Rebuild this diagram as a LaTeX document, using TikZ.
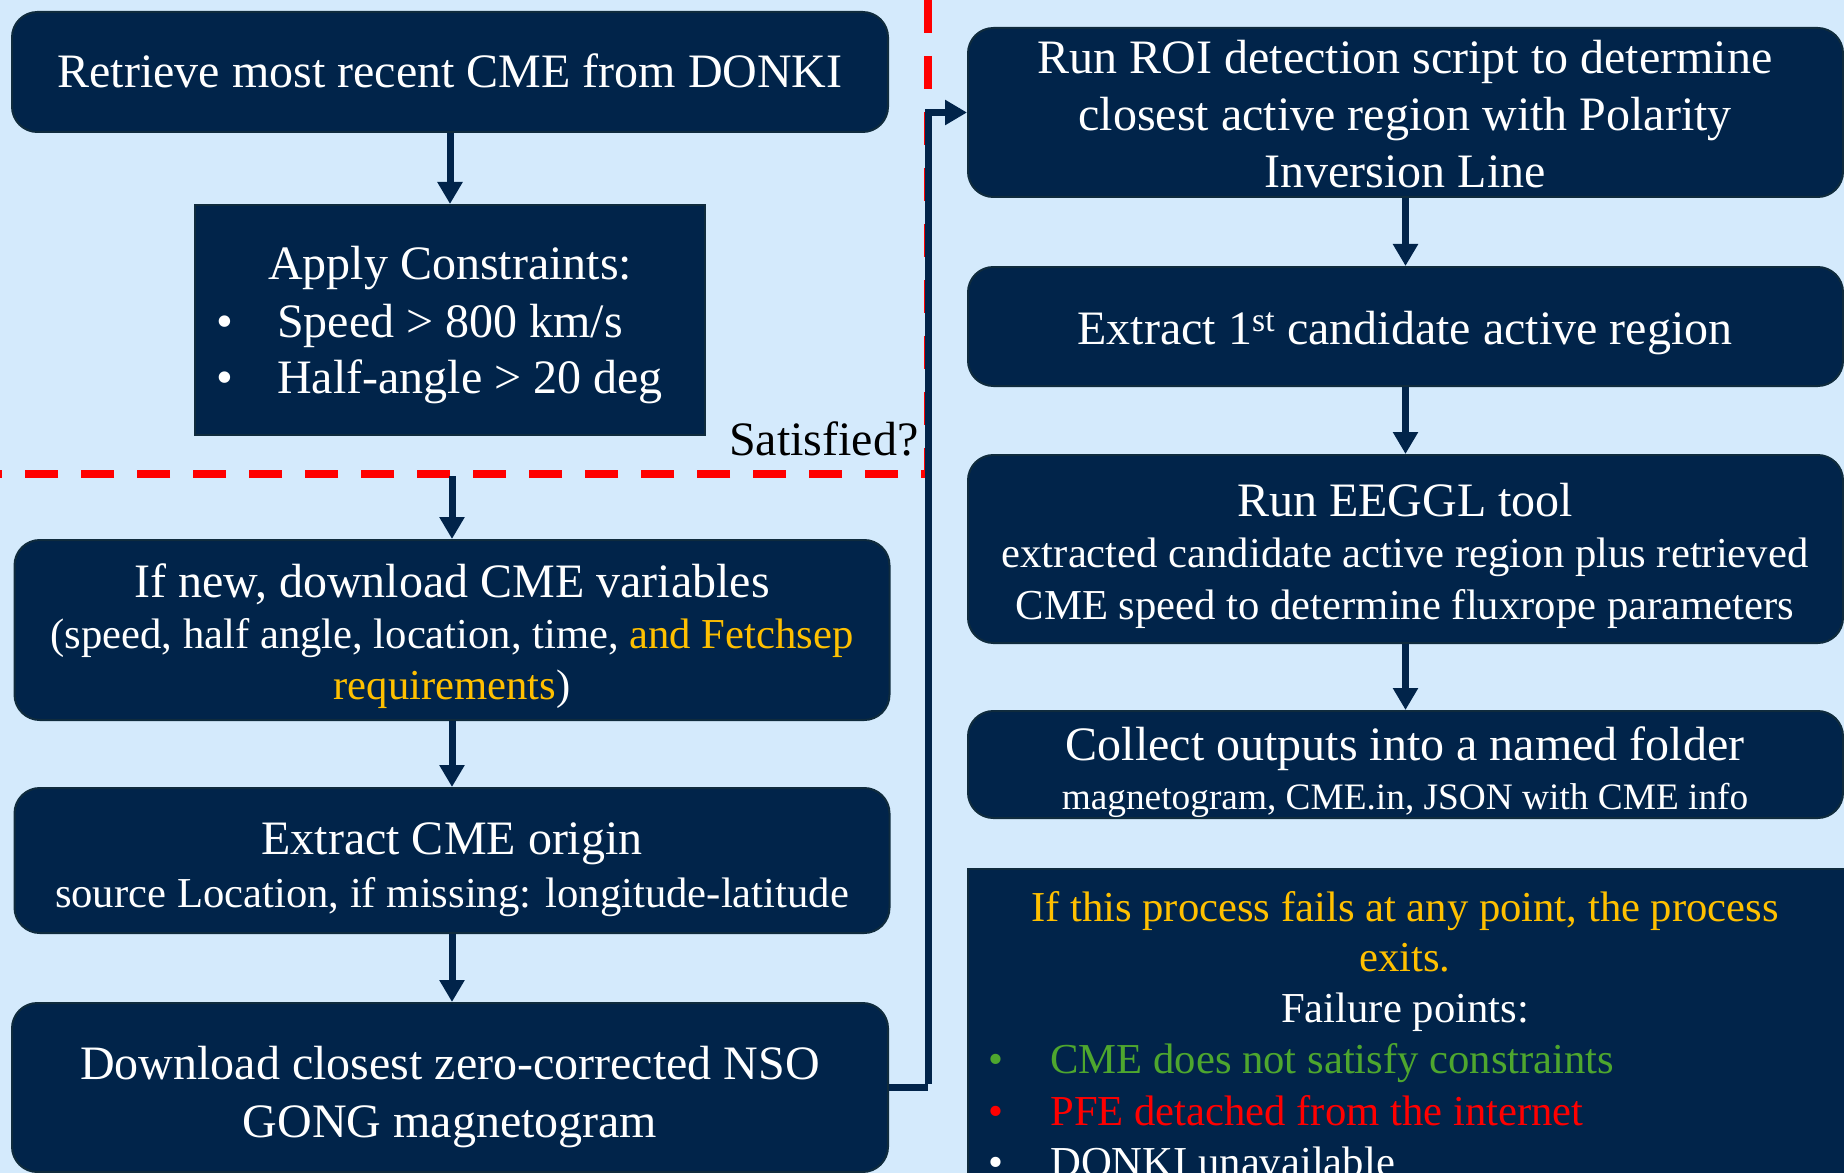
\documentclass[tikz,border=0pt]{standalone}
\usepackage{fontspec}
\setmainfont{Liberation Serif}
\usetikzlibrary{arrows.meta}
\definecolor{bg}{HTML}{D4EAFC}
\definecolor{navy}{HTML}{01244A}
\definecolor{navyedge}{HTML}{0F2B3D}
\definecolor{gold}{HTML}{FFC000}
\definecolor{okgreen}{HTML}{4EA72E}
\definecolor{dashred}{HTML}{FF0000}
\begin{document}
\begin{tikzpicture}[x=0.75pt,y=-0.75pt,
  rbox/.style={fill=navy,draw=navyedge,line width=1.5pt,rounded corners=19pt,inner sep=0pt},
  sbox/.style={fill=navy,draw=navyedge,line width=1.5pt,inner sep=0pt},
  big/.style={font=\fontsize{36}{43}\selectfont,text=white,anchor=base,inner sep=0pt},
  small/.style={font=\fontsize{32}{38}\selectfont,text=white,anchor=base,inner sep=0pt},
  tiny/.style={font=\fontsize{28}{34}\selectfont,text=white,anchor=base,inner sep=0pt},
  conn/.style={draw=navy,line width=5.25pt},
  arr/.style={conn,-{Triangle[length=16.5pt,width=18pt]}},
  reddash/.style={draw=dashred,line width=6pt,dash pattern=on 24.75pt off 17.25pt}
]
\useasboundingbox (0,0) rectangle (1844,1173);
\clip (0,0) rectangle (1844,1173);
\fill[bg] (0,0) rectangle (1844,1173);

% red dashed separator
\draw[reddash] (928,0) -- (928,474) -- (0,474);

% boxes
\node[rbox,minimum width={876*0.75pt},minimum height={120*0.75pt}] (A) at (450,72) {};
\node[sbox,minimum width={510*0.75pt},minimum height={230*0.75pt}] (B) at (450,320) {};
\node[rbox,minimum width={875*0.75pt},minimum height={180*0.75pt}] (C) at (452,630) {};
\node[rbox,minimum width={875*0.75pt},minimum height={145*0.75pt}] (D) at (452,860.5) {};
\node[rbox,minimum width={876*0.75pt},minimum height={169*0.75pt}] (E) at (450,1087.5) {};
\node[rbox,minimum width={875*0.75pt},minimum height={169*0.75pt}] (ROI) at (1405.5,112.5) {};
\node[rbox,minimum width={875*0.75pt},minimum height={119*0.75pt}] (X1) at (1405.5,326.5) {};
\node[rbox,minimum width={875*0.75pt},minimum height={188*0.75pt}] (EE) at (1405.5,549) {};
\node[rbox,minimum width={875*0.75pt},minimum height={107*0.75pt}] (CO) at (1405.5,764.5) {};
\node[sbox,minimum width={890*0.75pt},minimum height={330*0.75pt}] (FB) at (1413,1034) {};

% connectors
\coordinate (cin) at (452,476);
\coordinate (bend) at (928,1087.5);
\draw[arr] (A.south) -- (B.north);
\draw[arr] (cin) -- (C.north);
\draw[arr] (C.south) -- (D.north);
\draw[arr] (D.south) -- (D.south |- E.north);
\draw[conn] (E.east) -- (bend);
\draw[arr] ([yshift=2.6pt]bend) |- (ROI.west);
\draw[arr] (ROI.south) -- (X1.north);
\draw[arr] (X1.south) -- (EE.north);
\draw[arr] (EE.south) -- (CO.north);

% texts
\node[big] (tA) at (450,88) {Retrieve most recent CME from DONKI};

\node[big] (tB1) at (450,279) {Apply Constraints:};
\node[big] (bB1) at (225,337) {•};
\node[big,anchor=base west] (tB2) at (277,337) {Speed > 800 km/s};
\node[big] (bB2) at (225,393) {•};
\node[big,anchor=base west] (tB3) at (277,393) {Half-angle > 20 deg};

\node[big,text=black,anchor=base west] (sat) at (729,455) {Satisfied?};

\node[big] (tC1) at (452,597) {If new, download CME variables};
\node[small] (tC2) at (452,648) {(speed, half angle, location, time, \textcolor{gold}{and Fetchsep}};
\node[small] (tC3) at (452,699) {\textcolor{gold}{requirements})};

\node[big] (tD1) at (452,854) {Extract CME origin};
\node[small] (tD2) at (452,907) {source Location, if missing: longitude-latitude};

\node[big] (tE1) at (450,1079) {Download closest zero-corrected NSO};
\node[big] (tE2) at (450,1137) {GONG magnetogram};

\node[big] (tR1) at (1405,74) {Run ROI detection script to determine};
\node[big] (tR2) at (1405,131) {closest active region with Polarity};
\node[big] (tR3) at (1405,188) {Inversion Line};

\node[big] (tX1) at (1405,344) {Extract 1\textsuperscript{st} candidate active region};

\node[big] (tEE1) at (1405,516) {Run EEGGL tool};
\node[small] (tEE2) at (1405,567) {extracted candidate active region plus retrieved};
\node[small] (tEE3) at (1405,619) {CME speed to determine fluxrope parameters};

\node[big] (tCO1) at (1405,760) {Collect outputs into a named folder};
\node[tiny] (tCO2) at (1405,809) {magnetogram, CME.in, JSON with CME info};

\node[small,text=gold] (tF1) at (1405,921) {If this process fails at any point, the process};
\node[small,text=gold] (tF2) at (1405,971) {exits.};
\node[small] (tF3) at (1405,1022) {Failure points:};
\node[small,text=okgreen] (bF1) at (996,1073) {•};
\node[small,text=okgreen,anchor=base west] (tF4) at (1050,1073) {CME does not satisfy constraints};
\node[small,text=dashred] (bF2) at (996,1125) {•};
\node[small,text=dashred,anchor=base west] (tF5) at (1050,1125) {PFE detached from the internet};
\node[small] (bF3) at (996,1176) {•};
\node[small,anchor=base west] (tF6) at (1050,1176) {DONKI unavailable};
\end{tikzpicture}
\end{document}
